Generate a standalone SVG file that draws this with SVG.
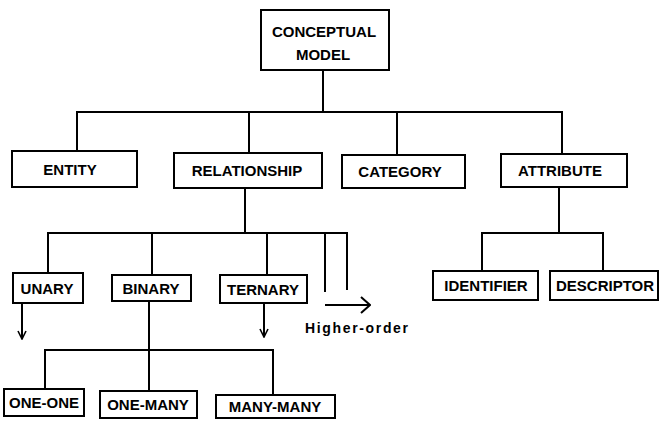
<svg xmlns="http://www.w3.org/2000/svg" width="660" height="421" viewBox="0 0 660 421">
<style>
.box{fill:#fff;stroke:#000;stroke-width:2}
.lbl{font-family:"Liberation Sans",Arial,sans-serif;font-weight:bold;font-size:15px;text-anchor:middle;fill:#000}
.ln{fill:none;stroke:#000;stroke-width:2}
.note{font-family:"Liberation Sans",Arial,sans-serif;font-weight:bold;font-size:14px;fill:#000}
</style>
<defs>
<marker id="arr" viewBox="0 0 10 10" refX="9" refY="5" markerWidth="10" markerHeight="10" markerUnits="userSpaceOnUse" orient="auto">
<path d="M1,1 L9,5 L1,9" fill="none" stroke="#000" stroke-width="1.6"/>
</marker>
<marker id="arrBig" viewBox="0 0 16 18" refX="15" refY="9" markerWidth="16" markerHeight="18" markerUnits="userSpaceOnUse" orient="auto">
<path d="M6,1 L15,9 L6,17" fill="none" stroke="#000" stroke-width="2"/>
</marker>
</defs>
<rect width="660" height="421" fill="#fff"/>
<g id="connectors">
<path class="ln" d="M323,70 V112 M77,151 V112 H562 V154 M249,112 V153 M397,112 V155"/>
<path class="ln" d="M245,188 V233 M48,273 V233 H347 V290 M152,233 V275 M267,233 V276 M325,233 V292"/>
<path class="ln" d="M559,187 V233 M482,271 V233 H603 V271"/>
<path class="ln" d="M149,301 V391 M45,389 V350 H273 V396"/>
<path class="ln" d="M22,303 V339" marker-end="url(#arr)"/>
<path class="ln" d="M264,302 V337" marker-end="url(#arr)"/>
<path class="ln" d="M325,305 H370" marker-end="url(#arrBig)"/>
<text class="note" x="305" y="333" textLength="103" lengthAdjust="spacing">Higher-order</text>
</g>
<g id="conceptual-model"><rect class="box" x="261" y="10" width="128" height="60"/><text class="lbl" x="324" y="37">CONCEPTUAL</text><text class="lbl" x="323" y="60">MODEL</text></g>
<g id="entity"><rect class="box" x="12" y="151" width="125" height="36"/><text class="lbl" x="70" y="175">ENTITY</text></g>
<g id="relationship"><rect class="box" x="174" y="153" width="148" height="35"/><text class="lbl" x="247" y="176">RELATIONSHIP</text></g>
<g id="category"><rect class="box" x="342" y="155" width="123" height="33"/><text class="lbl" x="400" y="177">CATEGORY</text></g>
<g id="attribute"><rect class="box" x="501" y="154" width="126" height="33"/><text class="lbl" x="560" y="176">ATTRIBUTE</text></g>
<g id="unary"><rect class="box" x="13" y="273" width="70" height="30"/><text class="lbl" x="47" y="294">UNARY</text></g>
<g id="binary"><rect class="box" x="112" y="275" width="79" height="26"/><text class="lbl" x="151" y="294">BINARY</text></g>
<g id="ternary"><rect class="box" x="220" y="275" width="87" height="28"/><text class="lbl" x="263" y="295">TERNARY</text></g>
<g id="identifier"><rect class="box" x="433" y="271" width="105" height="29"/><text class="lbl" x="486" y="291">IDENTIFIER</text></g>
<g id="descriptor"><rect class="box" x="550" y="271" width="108" height="29"/><text class="lbl" x="605" y="291">DESCRIPTOR</text></g>
<g id="one-one"><rect class="box" x="4" y="389" width="80" height="27"/><text class="lbl" x="44" y="408">ONE-ONE</text></g>
<g id="one-many"><rect class="box" x="100" y="391" width="97" height="27"/><text class="lbl" x="148" y="410">ONE-MANY</text></g>
<g id="many-many"><rect class="box" x="216" y="395" width="119" height="23"/><text class="lbl" x="275" y="412">MANY-MANY</text></g>
</svg>
